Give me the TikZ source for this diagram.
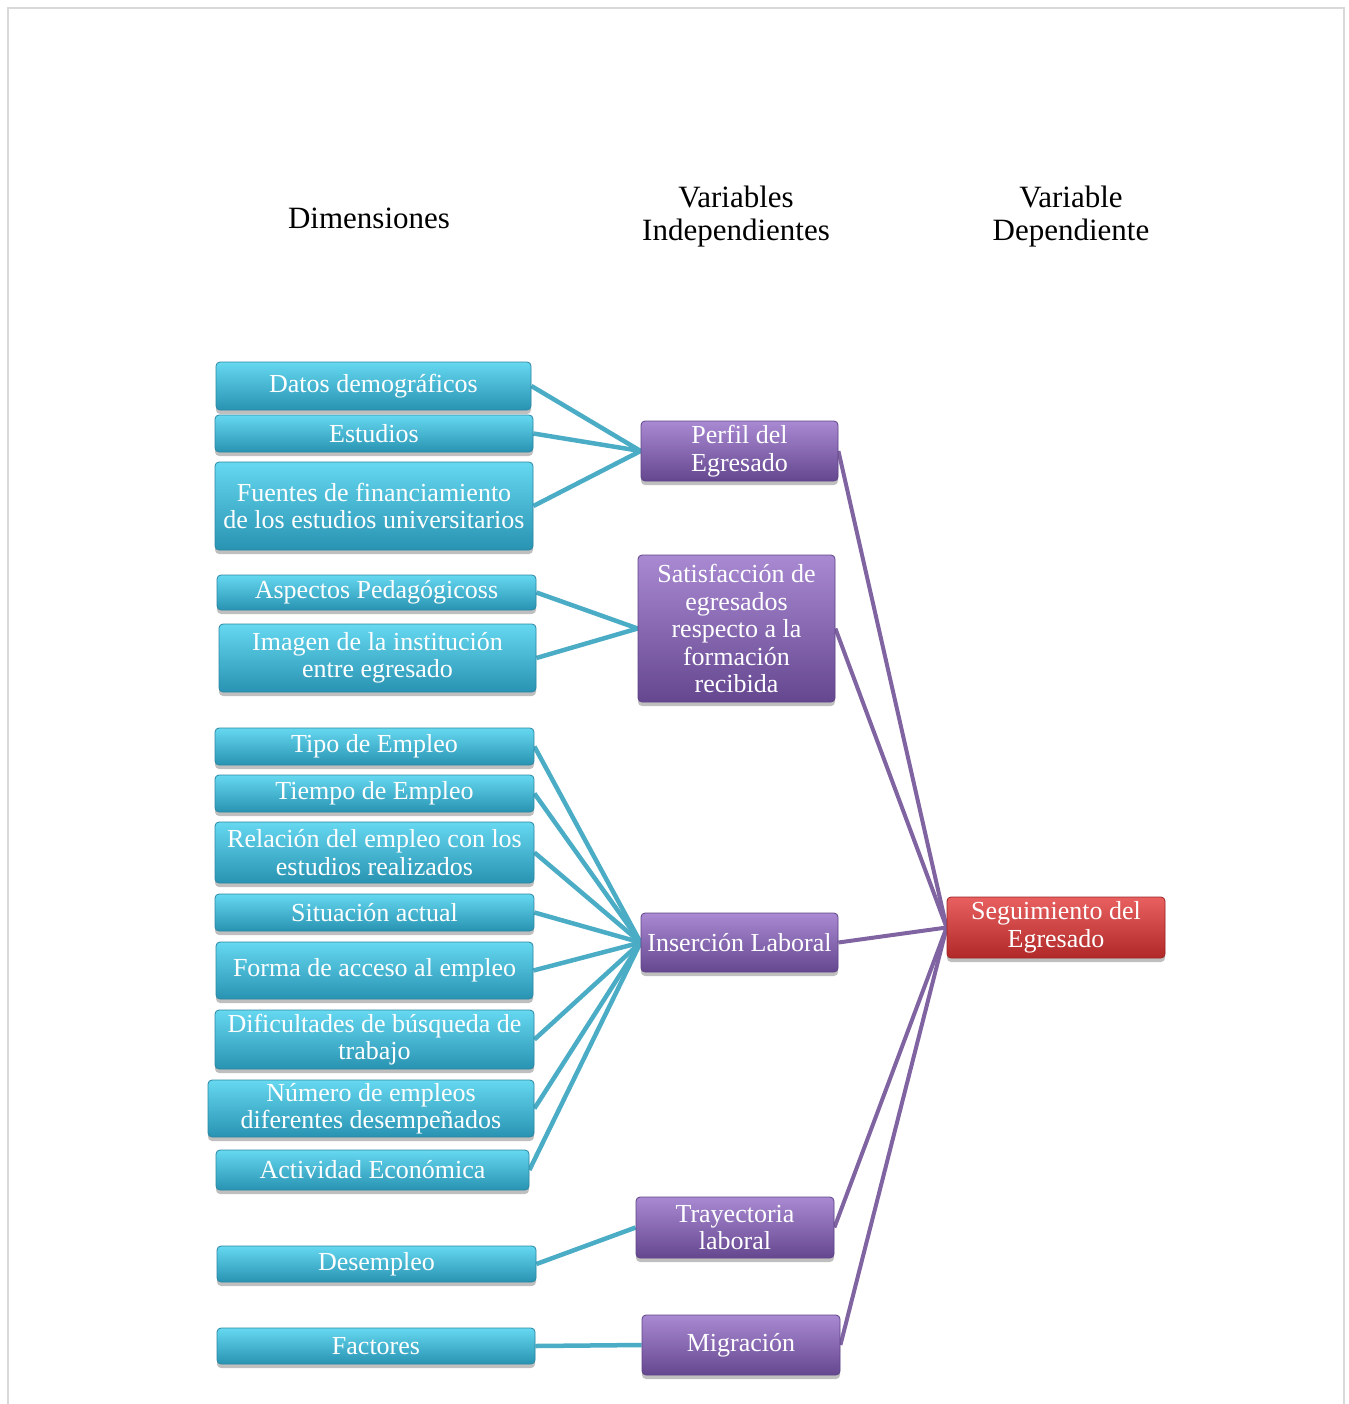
\documentclass[tikz,border=0pt]{standalone}
\usepackage{fontspec}
\setmainfont{Liberation Serif}
\usetikzlibrary{shadows,backgrounds}
\definecolor{cyTop}{HTML}{66D8F0}
\definecolor{cyMid}{HTML}{38B4D4}
\definecolor{cyBot}{HTML}{2893B2}
\definecolor{cyEdge}{HTML}{2B87A3}
\definecolor{puTop}{HTML}{A98AD2}
\definecolor{puMid}{HTML}{8262AE}
\definecolor{puBot}{HTML}{654790}
\definecolor{puEdge}{HTML}{5E4488}
\definecolor{reTop}{HTML}{E86060}
\definecolor{reMid}{HTML}{D33B3B}
\definecolor{reBot}{HTML}{B02828}
\definecolor{reEdge}{HTML}{9E2424}
\definecolor{cyLine}{HTML}{4BACC6}
\definecolor{puLine}{HTML}{8064A2}
\tikzset{
  basebox/.style={rounded corners=4pt, draw, line width=0.8pt, align=center, text=white,
    inner sep=2pt, font=\fontsize{26}{27.5}\selectfont,
    drop shadow={shadow xshift=0pt, shadow yshift=-4pt, opacity=0.25, fill=black}},
  dimbox/.style={basebox, draw=cyEdge, top color=cyTop, middle color=cyMid, bottom color=cyBot},
  varbox/.style={basebox, draw=puEdge, top color=puTop, middle color=puMid, bottom color=puBot},
  depbox/.style={basebox, draw=reEdge, top color=reTop, middle color=reMid, bottom color=reBot},
  header/.style={align=center, font=\fontsize{31}{33}\selectfont, text=black},
  cyconn/.style={draw=cyLine, line width=4.5pt},
  puconn/.style={draw=puLine, line width=4pt},
}
\begin{document}
\begin{tikzpicture}[x=1pt,y=-1pt]
\useasboundingbox (0,0) rectangle (1348,1404);
\draw[black!15, line width=2pt] (8,1404) -- (8,8) -- (1344,8) -- (1344,1404);

\node[header] (h1) at (369,218) {Dimensiones};
\node[header] (h2) at (736,217) {Variables\\Independientes};
\node[header] (h3) at (1071,217) {Variable\\Dependiente};

% dimensions
\node[dimbox, minimum width=315, minimum height=48] (d1) at (373.5,386) {Datos demográficos};
\node[dimbox, minimum width=318, minimum height=37] (d2) at (374,433.5) {Estudios};
\node[dimbox, minimum width=318, minimum height=88] (d3) at (374,506) {Fuentes de financiamiento\\de los estudios universitarios};
\node[dimbox, minimum width=319, minimum height=35] (d4) at (376.5,592.5) {Aspectos Pedagógicoss};
\node[dimbox, minimum width=317, minimum height=68] (d5) at (377.5,658) {Imagen de la institución\\entre egresado};
\node[dimbox, minimum width=319, minimum height=37] (d6) at (374.5,746.5) {Tipo de Empleo};
\node[dimbox, minimum width=319, minimum height=37] (d7) at (374.5,793.5) {Tiempo de Empleo};
\node[dimbox, minimum width=319, minimum height=61] (d8) at (374.5,852.5) {Relación del empleo con los\\estudios realizados};
\node[dimbox, minimum width=319, minimum height=37] (d9) at (374.5,912.5) {Situación actual};
\node[dimbox, minimum width=317, minimum height=57] (d10) at (374.5,970.5) {Forma de acceso al empleo};
\node[dimbox, minimum width=319, minimum height=59] (d11) at (374.5,1039.5) {Dificultades de búsqueda de\\trabajo};
\node[dimbox, minimum width=326, minimum height=57] (d12) at (371,1108.5) {Número de empleos\\diferentes desempeñados};
\node[dimbox, minimum width=313, minimum height=40] (d13) at (372.5,1170) {Actividad Económica};
\node[dimbox, minimum width=319, minimum height=36] (d14) at (376.5,1264) {Desempleo};
\node[dimbox, minimum width=318, minimum height=36] (d15) at (376,1346) {Factores};

% independent variables
\node[varbox, minimum width=197, minimum height=60] (v1) at (739.5,451) {Perfil del\\Egresado};
\node[varbox, minimum width=197, minimum height=147] (v2) at (736.5,628.5) {Satisfacción de\\egresados\\respecto a la\\formación\\recibida};
\node[varbox, minimum width=197, minimum height=59] (v3) at (739.5,942.5) {Inserción Laboral};
\node[varbox, minimum width=198, minimum height=61] (v4) at (735,1227.5) {Trayectoria\\laboral};
\node[varbox, minimum width=198, minimum height=60] (v5) at (741,1345) {Migración};

% dependent variable
\node[depbox, minimum width=218, minimum height=61] (s) at (1056,927.5) {Seguimiento del\\Egresado};

\begin{scope}[on background layer]
\foreach \d in {d1,d2,d3} \draw[cyconn] (\d.east) -- (v1.west);
\foreach \d in {d4,d5} \draw[cyconn] (\d.east) -- (v2.west);
\foreach \d in {d6,d7,d8,d9,d10,d11,d12,d13} \draw[cyconn] (\d.east) -- (v3.west);
\draw[cyconn] (d14.east) -- (v4.west);
\draw[cyconn] (d15.east) -- (v5.west);
\foreach \v in {v1,v2,v3,v4,v5} \draw[puconn] (\v.east) -- (s.west);
\end{scope}
\end{tikzpicture}
\end{document}
